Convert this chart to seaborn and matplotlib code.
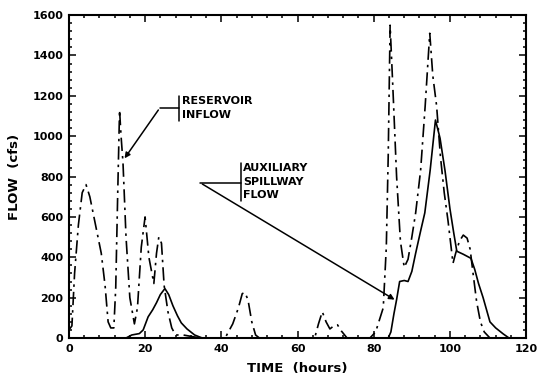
import numpy as np
import pandas as pd
import matplotlib
matplotlib.use("Agg")
import matplotlib.pyplot as plt
from matplotlib.ticker import MultipleLocator
import seaborn as sns

# reservoir inflow (dash-dot)
inflow_t = [0, 0.8, 1.5, 2.5, 3.5, 4.5, 5.5, 7, 8.5, 9.5, 10.3, 11, 11.8, 12.3, 12.8,
            13.3, 13.7, 14.2, 15, 16, 17.2, 18, 19, 20, 21, 22.3, 23, 23.6, 24.3, 25,
            26, 27, 28, 30, 33, 35, 41, 43, 44.5, 45.5, 46.2, 47, 48, 49, 50,
            64.5, 65.5, 66.5, 67.5, 68.5, 69.5, 70.5, 71.5, 73, 79, 80.5, 82.5,
            83.3, 83.8, 84.3, 85, 86, 87, 88, 89, 90, 91, 92.3, 93.5, 94.7, 95.5,
            96.5, 97.5, 98.5, 99.5, 100.8, 101.5, 102.5, 103.5, 104.5, 105.3, 106,
            107, 108, 109, 110.5, 120]
inflow_q = [40, 60, 320, 560, 720, 760, 700, 560, 420, 260, 80, 50, 50, 250, 700,
            1130, 1000, 870, 500, 200, 70, 150, 450, 600, 400, 270, 420, 500, 470, 260,
            130, 50, 15, 15, 5, 0, 0, 70, 150, 220, 225, 190, 80, 15, 0,
            0, 70, 130, 80, 45, 60, 65, 35, 0, 0, 30, 150,
            450, 900, 1550, 1250, 800, 480, 350, 390, 500, 620, 830, 1150, 1510, 1300,
            1150, 900, 720, 580, 370, 420, 480, 510, 495, 440, 330,
            180, 80, 30, 0, 0]

# auxiliary spillway flow (solid)
spill_t = [0, 15, 16.5, 18.5, 19.5, 20.8, 22, 23, 24, 25.2, 26.2, 27.3, 28.5, 29.5,
           31, 33, 35, 83.8, 84.5, 85.3, 86, 86.8, 88, 89, 90, 91, 92.3, 93.4, 94.8,
           96.2, 97.4, 98.7, 100, 101, 101.8, 103.5, 105.5, 106.5, 107.5, 108.7,
           110.5, 112, 114, 115.5, 120]
spill_q = [0, 0, 15, 22, 40, 105, 140, 175, 215, 245, 215, 160, 110, 75,
           45, 15, 0, 0, 30, 120, 190, 280, 285, 280, 330, 420, 530, 620, 830,
           1080, 990, 830, 640, 520, 430, 415, 395, 340, 270, 200,
           80, 50, 20, 0, 0]

x_ticks = [0, 20, 40, 60, 80, 100, 120]
y_ticks = [0, 200, 400, 600, 800, 1000, 1200, 1400, 1600]

inflow = pd.DataFrame({"time": inflow_t, "flow": inflow_q})
spill = pd.DataFrame({"time": spill_t, "flow": spill_q})

sns.set_style("ticks")
plt.rcParams["font.family"] = ["DejaVu Sans"]
plt.rcParams["font.weight"] = "bold"
for key in ["text.color", "axes.labelcolor", "xtick.color", "ytick.color", "axes.edgecolor"]:
    plt.rcParams[key] = "black"

fig = plt.figure(figsize=(5.38, 3.77), dpi=100)
ax = fig.add_axes([0.128, 0.1034, 0.850, 0.8566])

sns.lineplot(data=inflow, x="time", y="flow", ax=ax, color="black", lw=1.2,
             estimator=None, sort=False)
ax.lines[-1].set_linestyle((0, (8, 3, 1.5, 3)))
sns.lineplot(data=spill, x="time", y="flow", ax=ax, color="black", lw=1.2,
             estimator=None, sort=False)

ax.set_xlim(0, 120)
ax.set_ylim(0, 1600)
ax.set_xticks(x_ticks)
ax.set_yticks(y_ticks)
ax.xaxis.set_minor_locator(MultipleLocator(4))
ax.yaxis.set_minor_locator(MultipleLocator(40))
ax.tick_params(which="both", direction="in", top=True, right=True, width=1.1)
ax.tick_params(which="major", length=5, labelsize=8, pad=4)
ax.tick_params(which="minor", length=2.5)
for lab in ax.get_xticklabels() + ax.get_yticklabels():
    lab.set_fontweight("bold")
for sp in ax.spines.values():
    sp.set_linewidth(1.5)

ax.set_xlabel("TIME  (hours)", fontsize=9.5, fontweight="bold", labelpad=6)
ax.set_ylabel("FLOW  (cfs)", fontsize=9.5, fontweight="bold", labelpad=8)

# label brackets and pointers
kw = dict(color="black", lw=1.1)
ax.plot([23.9, 28.9], [1141, 1141], **kw)
ax.plot([28.9, 28.9], [1077, 1200], **kw)
ax.annotate("", xy=(14.2, 879), xytext=(23.9, 1141),
            arrowprops=dict(arrowstyle="-|>", color="black", lw=1.1, mutation_scale=8))
ax.text(29.6, 1138, "RESERVOIR\nINFLOW", fontsize=8, fontweight="bold",
        va="center", ha="left", linespacing=1.5)

ax.plot([34.4, 45.1], [770, 770], **kw)
ax.plot([45.1, 45.1], [681, 869], **kw)
ax.annotate("", xy=(86.1, 183), xytext=(34.4, 770),
            arrowprops=dict(arrowstyle="-|>", color="black", lw=1.1, mutation_scale=8))
ax.text(45.8, 775, "AUXILIARY\nSPILLWAY\nFLOW", fontsize=8, fontweight="bold",
        va="center", ha="left", linespacing=1.45)

fig.savefig("out.png", dpi=100)
